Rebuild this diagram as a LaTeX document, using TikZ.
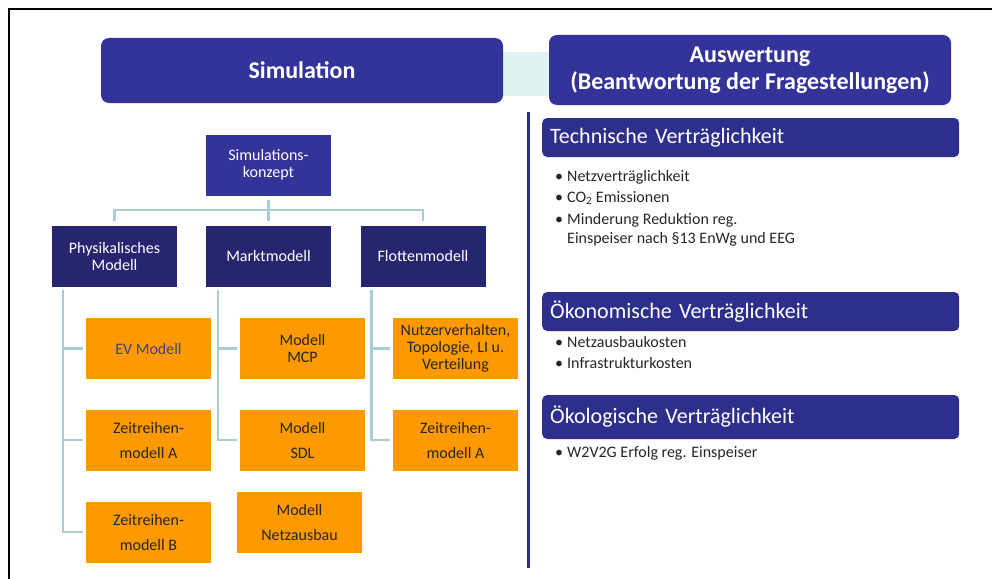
\documentclass[tikz,border=0pt]{standalone}
\usepackage{fontspec}
\setmainfont{Carlito}
\definecolor{simblue}{RGB}{51,51,153}
\definecolor{deepblue}{RGB}{38,38,112}
\definecolor{barblue}{RGB}{46,46,140}
\definecolor{orangebox}{RGB}{255,153,0}
\definecolor{linkcol}{RGB}{168,206,212}
\definecolor{bridge}{RGB}{226,241,242}
\definecolor{evtext}{RGB}{64,64,140}
\newcommand{\bw}{125pt}
\newcommand{\bh}{61pt}
\newcommand{\bul}{\llap{\textbullet\hspace{4pt}}}

\begin{document}
\begin{tikzpicture}[x=1pt,y=-1pt,
    head/.style={fill=simblue, rounded corners=8pt, text=white, align=center, inner sep=0pt, font=\bfseries\fontsize{24}{27}\selectfont},
    konz/.style={fill=simblue, text=white, minimum width=\bw, minimum height=\bh, align=center, inner sep=0pt, outer sep=0pt, font=\fontsize{16}{17}\selectfont},
    modl/.style={konz, fill=deepblue},
    sub/.style={fill=orangebox, text=black!85, minimum width=\bw, minimum height=\bh, align=center, inner sep=0pt, outer sep=0pt, font=\fontsize{16}{17}\selectfont},
    wide/.style={font=\fontsize{16}{25}\selectfont},
    link/.style={draw=linkcol, line width=2.5pt},
    bar/.style={fill=barblue, text=white, rounded corners=5pt, anchor=west, text width=401pt, align=left, inner xsep=8pt, minimum height=39pt, font=\fontsize{22}{26}\selectfont},
    item/.style={anchor=west, align=left, inner sep=0pt, text=black!85, font=\fontsize{16}{19}\selectfont}]
    \useasboundingbox (0,0) rectangle (992,578);
    \draw[line width=2.5pt] (9,580) -- (9,9) -- (994,9);

    % Headers
    \fill[bridge] (500,52) rectangle (550,96);
    \node[head, minimum width=402pt, minimum height=65pt] (sim) at (302,70.5) {Simulation};
    \node[head, minimum width=402pt, minimum height=70pt] (ausw) at (750,70) {Auswertung\\(Beantwortung der Fragestellungen)};
    \draw[barblue, line width=3pt] (528,112) -- (528,568);

    % Tree
    \node[konz] (konzept) at (268.5,165) {Simulations-\\konzept};
    \node[modl] (box-1) at (114.5,256.5) {Physikalisches\\Modell};
    \node[modl] (box-2) at (268.5,256.5) {Marktmodell};
    \node[modl] (box-3) at (423,256.5) {Flottenmodell};

    % First column
    \node[sub, text=evtext] (box-1-1) at (148.5,348.5) {EV Modell};
    \node[sub, wide] (box-1-2) at (148.5,440) {Zeitreihen-\\modell A};
    \node[sub, wide] (box-1-3) at (148.5,532) {Zeitreihen-\\modell B};

    % Second column
    \node[sub] (box-2-1) at (302.5,348.5) {Modell\\MCP};
    \node[sub, wide] (box-2-2) at (302.5,440) {Modell\\SDL};
    \node[sub, wide] (box-2-3) at (299.5,522) {Modell\\Netzausbau};

    % Third column
    \node[sub] (box-3-1) at (455.5,348.5) {Nutzerverhalten,\\Topologie, LI u.\\Verteilung};
    \node[sub, wide] (box-3-2) at (455.5,440) {Zeitreihen-\\modell A};

    \coordinate (split) at (268.5,210);
    \draw[link] ([yshift=-4pt]konzept.south) -- ([yshift=5pt]box-2.north);
    \draw[link] ([yshift=5pt]box-1.north) |- (split) -| ([yshift=5pt]box-3.north);
    \foreach \r in {1,2,3}
        \draw[link] ([xshift=11pt,yshift=-3pt]box-1.south west) |- ([xshift=-3pt]box-1-\r.west);
    \foreach \r in {1,2}
        \draw[link] ([xshift=12pt,yshift=-3pt]box-2.south west) |- ([xshift=-3pt]box-2-\r.west);
    \foreach \r in {1,2}
        \draw[link] ([xshift=11pt,yshift=-3pt]box-3.south west) |- ([xshift=-3pt]box-3-\r.west);

    % Evaluation
    \node[bar] (tech) at (542,137.5) {Technische Verträglichkeit};
    \node[item] (tech-1) at (567,177) {\bul Netzverträglichkeit};
    \node[item] (tech-2) at (567,198) {\bul CO\textsubscript{2} Emissionen};
    \node[item] (tech-3) at (567,229.5) {\bul Minderung Reduktion reg.\\Einspeiser nach §13 EnWg und EEG};

    \node[bar] (oeko) at (542,311.5) {Ökonomische Verträglichkeit};
    \node[item] (oeko-1) at (567,342) {\bul Netzausbaukosten};
    \node[item] (oeko-2) at (567,363) {\bul Infrastrukturkosten};

    \node[bar, minimum height=44pt] (oekol) at (542,417) {Ökologische Verträglichkeit};
    \node[item] (oekol-1) at (567,453) {\bul W2V2G Erfolg reg. Einspeiser};
\end{tikzpicture}
\end{document}
